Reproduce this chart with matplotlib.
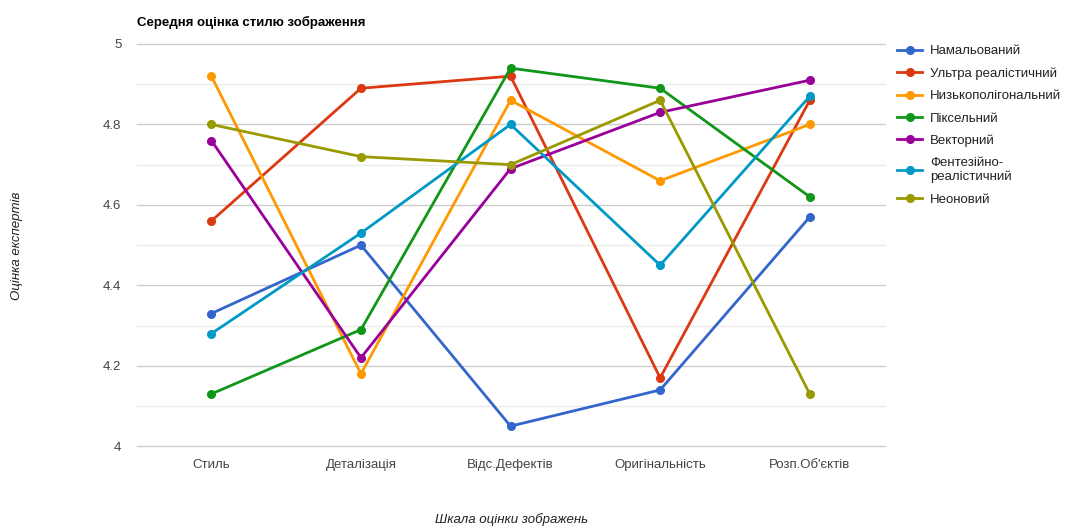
import numpy as np
import matplotlib.pyplot as plt

categories = ['Стиль', 'Деталізація', 'Відс.Дефектів', 'Оригінальність', "Розп.Об'єктів"]

series_names = [
    'Намальований',
    'Ультра реалістичний',
    'Низькополігональний',
    'Піксельний',
    'Векторний',
    'Фентезійно-\nреалістичний',
    'Неоновий',
]

painted = [4.33, 4.50, 4.05, 4.14, 4.57]
ultra_real = [4.56, 4.89, 4.92, 4.17, 4.86]
low_poly = [4.92, 4.18, 4.86, 4.66, 4.80]
pixel = [4.13, 4.29, 4.94, 4.89, 4.62]
vector = [4.76, 4.22, 4.69, 4.83, 4.91]
fantasy = [4.28, 4.53, 4.80, 4.45, 4.87]
neon = [4.80, 4.72, 4.70, 4.86, 4.13]

y_ticks = [4, 4.2, 4.4, 4.6, 4.8, 5]
y_tick_labels = ['4', '4.2', '4.4', '4.6', '4.8', '5']
y_minor = [4.1, 4.3, 4.5, 4.7, 4.9]

colors = ['#3366cc', '#dc3912', '#ff9900', '#109618', '#990099', '#0099c6', '#999900']

plt.rcParams['font.family'] = ['Liberation Sans', 'DejaVu Sans']

fig = plt.figure(figsize=(10.67, 5.3), dpi=100)
ax = fig.add_axes([0.128, 0.158, 0.701, 0.759])

x = np.arange(len(categories))
all_series = [painted, ultra_real, low_poly, pixel, vector, fantasy, neon]
for name, vals, col in zip(series_names, all_series, colors):
    ax.plot(x, vals, color=col, lw=2, marker='o', markersize=5.5, label=name,
            solid_joinstyle='round', zorder=3)

ax.set_xlim(-0.5, len(categories) - 0.5)
ax.set_ylim(4, 5)
ax.set_xticks(x)
ax.set_xticklabels(categories)
ax.set_yticks(y_ticks)
ax.set_yticklabels(y_tick_labels)
ax.set_yticks(y_minor, minor=True)

# gridlines drawn by hand so the edge lines at 4 and 5 are not clipped
for v in y_minor:
    ax.axhline(v, color='#ebebeb', lw=1, zorder=0, clip_on=False)
for v in y_ticks:
    ax.axhline(v, color='#cccccc', lw=1, zorder=0, clip_on=False)
for s in ax.spines.values():
    s.set_visible(False)
ax.tick_params(axis='both', which='both', length=0, labelsize=9.5, colors='#444444')
ax.tick_params(axis='y', pad=11)
ax.tick_params(axis='x', pad=9)

fig.text(0.128, 0.958, 'Середня оцінка стилю зображення', fontsize=9.5,
         fontweight='bold', color='#000000', ha='left', va='center')
fig.text(0.016, 0.537, 'Оцінка експертів', rotation=90, fontsize=9.5,
         style='italic', color='#222222', ha='center', va='center')
fig.text(0.479, 0.02, 'Шкала оцінки зображень', fontsize=9.5,
         style='italic', color='#222222', ha='center', va='center')

leg = ax.legend(loc='upper left', bbox_to_anchor=(1.01, 1.01), frameon=False,
                fontsize=9.5, handlelength=1.9, handletextpad=0.6,
                labelspacing=0.76, borderaxespad=0.0)
for t in leg.get_texts():
    t.set_color('#222222')

fig.savefig('out.png', dpi=100)
